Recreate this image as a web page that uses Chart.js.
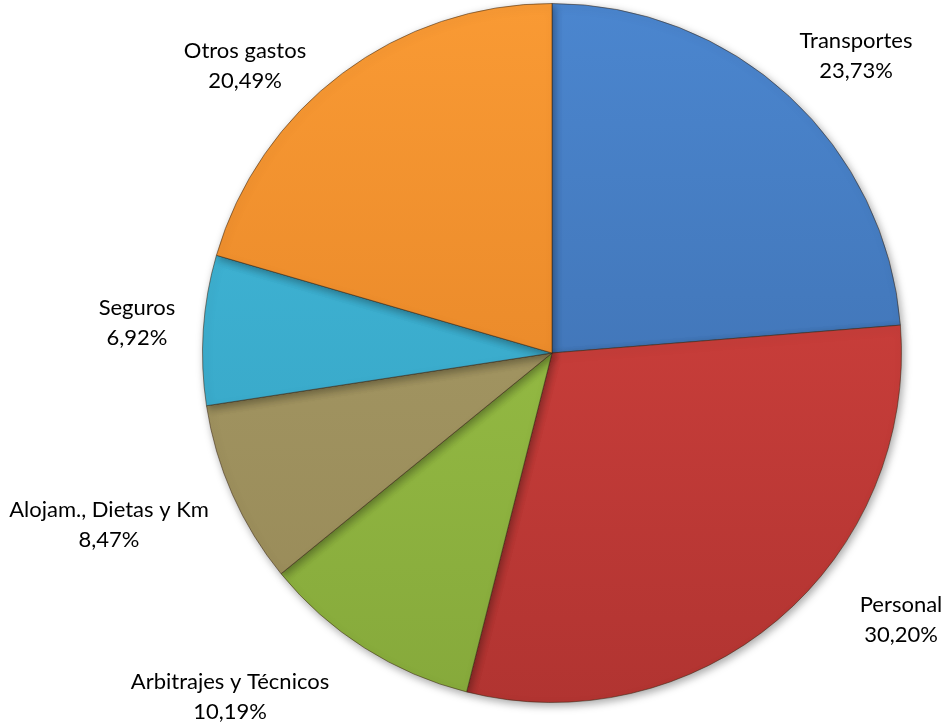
<!DOCTYPE html>
<html>
<head>
<meta charset="utf-8">
<script src="https://cdn.jsdelivr.net/npm/chart.js@4"></script>
<style>
  html, body { margin: 0; padding: 0; background: #fff; }
  #wrap { width: 946px; height: 724px; position: relative; }
</style>
</head>
<body>
<div id="wrap"><canvas id="pieChart" width="946" height="724"></canvas></div>
<script>
// data
const categories = ['Transportes', 'Personal', 'Arbitrajes y Técnicos', 'Alojam., Dietas y Km', 'Seguros', 'Otros gastos'];
const shares = [23.73, 30.20, 10.19, 8.47, 6.92, 20.49];
const shareLabels = ['23,73%', '30,20%', '10,19%', '8,47%', '6,92%', '20,49%'];

// top / bottom tones for each slice
const topColors = ['#4b86cf', '#da4541', '#9fc84a', '#aa9e6a', '#42badb', '#f99a34'];
const bottomColors = ['#3a69a6', '#b13431', '#86a93b', '#978957', '#349fbf', '#de7d22'];

// where Excel put the label text (centre x, first line y)
const labelSpots = [
  [856, 41], [901, 605], [230, 682], [109, 510], [137, 308], [245, 51]
];

function sliceFill(ctx) {
  const chart = ctx.chart;
  const area = chart.chartArea;
  if (!area) return topColors[ctx.dataIndex];
  const g = chart.ctx.createLinearGradient(0, area.top, 0, area.bottom);
  g.addColorStop(0, topColors[ctx.dataIndex]);
  g.addColorStop(1, bottomColors[ctx.dataIndex]);
  return g;
}

const shadowPlugin = {
  id: 'pieShadow',
  beforeDatasetsDraw(chart) {
    const ctx = chart.ctx;
    ctx.save();
    ctx.shadowColor = 'rgba(0,0,0,0.35)';
    ctx.shadowBlur = 8;
    ctx.shadowOffsetX = 2;
    ctx.shadowOffsetY = 3;
  },
  afterDatasetsDraw(chart) {
    chart.ctx.restore();
  }
};

const labelPlugin = {
  id: 'sliceLabels',
  afterDraw(chart) {
    const ctx = chart.ctx;
    ctx.save();
    ctx.font = '22px Lato, "Open Sans", sans-serif';
    ctx.fillStyle = '#000';
    ctx.textAlign = 'center';
    ctx.textBaseline = 'middle';
    categories.forEach((name, i) => {
      const [x, y] = labelSpots[i];
      ctx.fillText(name, x, y);
      ctx.fillText(shareLabels[i], x, y + 29.5);
    });
    ctx.restore();
  }
};

document.addEventListener('DOMContentLoaded', () => {
  const pieCtx = document.getElementById('pieChart').getContext('2d');
  new Chart(pieCtx, {
    type: 'pie',
    data: {
      labels: categories,
      datasets: [{
        data: shares,
        backgroundColor: sliceFill,
        borderColor: 'rgba(60,40,20,0.55)',
        borderWidth: 1
      }]
    },
    options: {
      responsive: false,
      animation: false,
      rotation: 0,
      layout: { padding: { left: 202, right: 44, top: 3, bottom: 21 } },
      plugins: {
        legend: { display: false },
        tooltip: { enabled: false }
      }
    },
    plugins: [shadowPlugin, labelPlugin]
  });
});
</script>
</body>
</html>
